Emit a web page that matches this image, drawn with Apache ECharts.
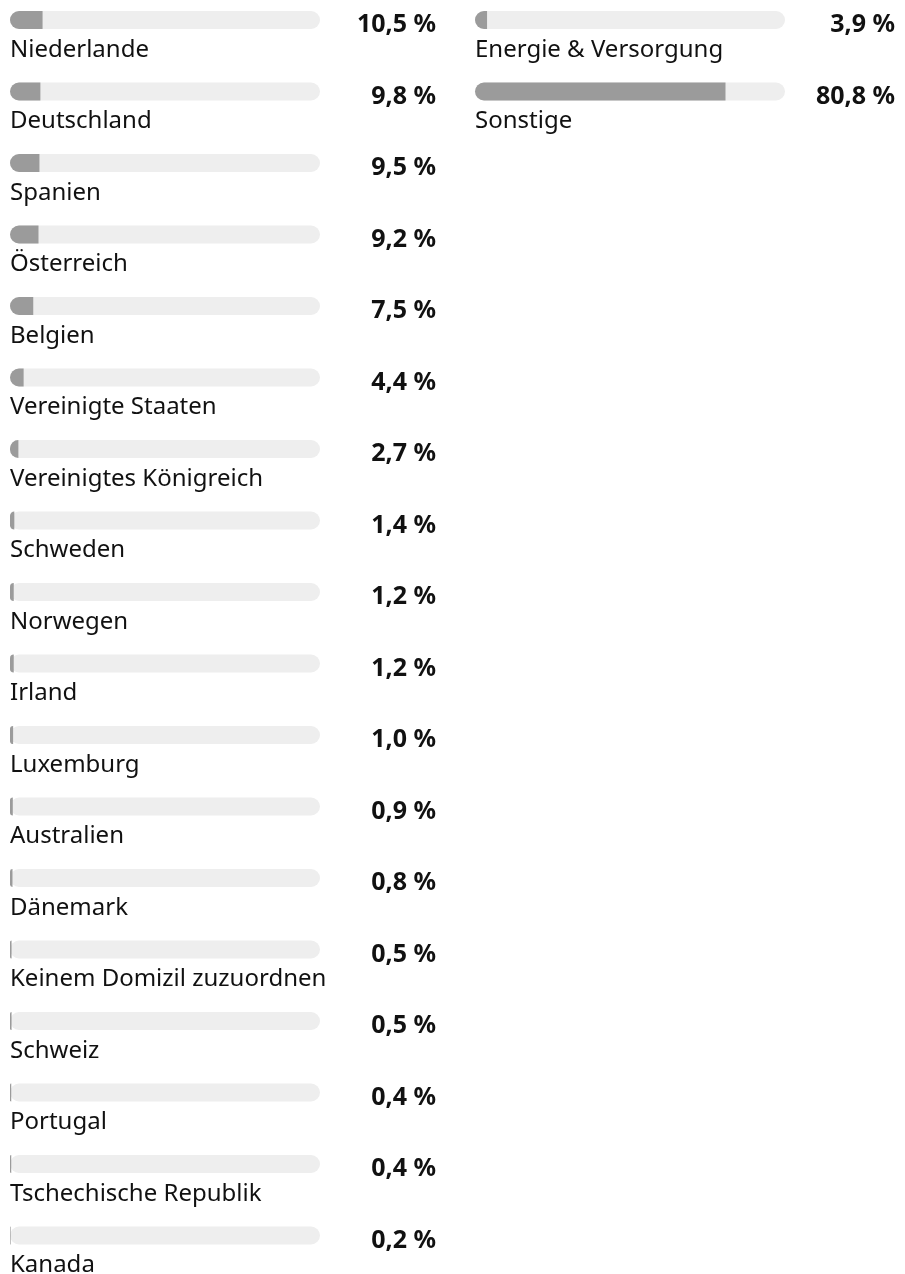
<!DOCTYPE html>
<html>
<head>
<meta charset="utf-8">
<script src="https://cdn.jsdelivr.net/npm/echarts@6/dist/echarts.min.js"></script>
<style>
  html, body { margin: 0; padding: 0; background: #ffffff; }
  #chart { width: 905px; height: 1274px; }
</style>
</head>
<body>
<div id="chart"></div>
<script>
// Aufteilung nach Ländern (linke Spalte)
const countries = [
  'Niederlande', 'Deutschland', 'Spanien', 'Österreich', 'Belgien',
  'Vereinigte Staaten', 'Vereinigtes Königreich', 'Schweden', 'Norwegen',
  'Irland', 'Luxemburg', 'Australien', 'Dänemark', 'Keinem Domizil zuzuordnen',
  'Schweiz', 'Portugal', 'Tschechische Republik', 'Kanada'
];
const countryShares = [
  10.5, 9.8, 9.5, 9.2, 7.5, 4.4, 2.7, 1.4, 1.2,
  1.2, 1.0, 0.9, 0.8, 0.5, 0.5, 0.4, 0.4, 0.2
];

// Aufteilung nach Branchen (rechte Spalte)
const sectors = ['Energie & Versorgung', 'Sonstige'];
const sectorShares = [3.9, 80.8];

const FILL = '#9b9b9b';
const TRACK = '#eeeeee';
const TEXT = '#111111';
const FONT = '"Noto Sans", sans-serif';

const fmt = v => v.toFixed(1).replace('.', ',') + ' %';

// One column: a rounded track with the share filled from the left,
// the name underneath and the share printed at the right.
function buildColumn(idx, names, values, valueX) {
  const fill = {
    type: 'bar',
    xAxisIndex: idx,
    yAxisIndex: idx,
    data: values,
    barWidth: 18,
    barGap: '-100%',
    silent: true,
    itemStyle: { color: FILL, borderRadius: [9, 0, 0, 9] },
    showBackground: true,
    backgroundStyle: { color: TRACK, borderRadius: 9 },
    label: {
      show: true,
      position: [0, 27],
      align: 'left',
      verticalAlign: 'top',
      formatter: p => names[p.dataIndex],
      color: TEXT,
      fontFamily: FONT,
      fontSize: 24,
      fontWeight: 'normal'
    }
  };
  const valueLabels = {
    type: 'bar',
    xAxisIndex: idx,
    yAxisIndex: idx,
    data: values,
    barWidth: 18,
    barGap: '-100%',
    silent: true,
    itemStyle: { color: 'rgba(0,0,0,0)' },
    label: {
      show: true,
      position: [valueX, 14],
      align: 'right',
      verticalAlign: 'middle',
      formatter: p => fmt(p.value),
      color: TEXT,
      fontFamily: FONT,
      fontSize: 25,
      fontWeight: 'bold'
    }
  };
  return [fill, valueLabels];
}

const chart = echarts.init(document.getElementById('chart'), null, { renderer: 'canvas' });

const hiddenValueAxis = (gi) => ({
  type: 'value', gridIndex: gi, min: 0, max: 100,
  show: false
});
const hiddenCatAxis = (gi, data) => ({
  type: 'category', gridIndex: gi, data: data, inverse: true,
  boundaryGap: false, show: false
});

chart.setOption({
  animation: false,
  grid: [
    { left: 10, width: 310, top: 20, height: 71.5 * (countries.length - 1) },
    { left: 475, width: 310, top: 20, height: 71.5 * (sectors.length - 1) }
  ],
  xAxis: [hiddenValueAxis(0), hiddenValueAxis(1)],
  yAxis: [hiddenCatAxis(0, countries), hiddenCatAxis(1, sectors)],
  series: [
    ...buildColumn(0, countries, countryShares, 426),
    ...buildColumn(1, sectors, sectorShares, 420)
  ]
});
</script>
</body>
</html>
